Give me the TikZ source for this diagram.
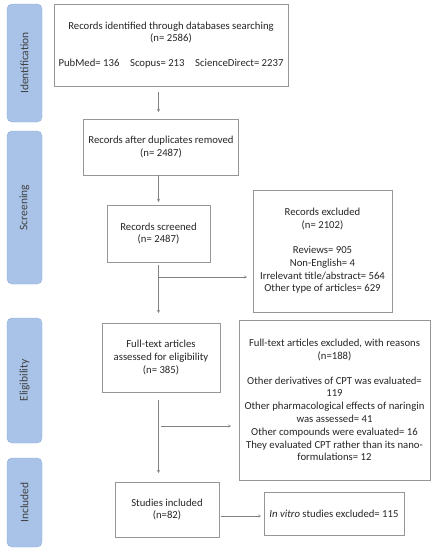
\documentclass[tikz,border=0pt]{standalone}
\usepackage{fontspec}
\setmainfont{Carlito}
\usepackage{tikz}
\usetikzlibrary{arrows.meta, positioning, calc}
\definecolor{barblue}{RGB}{169,195,232}
\definecolor{barline}{RGB}{140,172,218}
\definecolor{boxline}{RGB}{150,150,150}
\definecolor{arrowgray}{RGB}{130,130,130}
\tikzstyle{phase} = [rectangle, rounded corners = 5pt, minimum width = 35pt, fill = barblue, draw = barline, text = black!75, font = \fontsize{11.5}{13}\selectfont, rotate = 90]
\tikzstyle{record} = [rectangle, draw = boxline, fill = white, text = black!85, align = center, inner sep = 0pt, font = \fontsize{10.7}{12.8}\selectfont]
\tikzstyle{flow} = [draw = arrowgray, -{To[length=3pt, width=3pt]}]

\begin{document}
\begin{tikzpicture}[x = 1pt, y = -1pt]
\useasboundingbox (0,0) rectangle (434,550);
% phases
\node (ident) [phase, minimum height = 35pt, minimum width = 118pt] at (24.5,63) {Identification};
\node (screen) [phase, minimum height = 35pt, minimum width = 153pt] at (24.5,207.5) {Screening};
\node (elig) [phase, minimum height = 35pt, minimum width = 125pt] at (24.5,380.5) {Eligibility};
\node (incl) [phase, minimum height = 35pt, minimum width = 89pt] at (24.5,502.5) {Included};
% records
\node (found) [record, minimum width = 234pt, minimum height = 82pt] at (171,45) {Records identified through databases searching\\(n= 2586)\\[12pt]PubMed= 136\quad Scopus= 213\quad ScienceDirect= 2237};
\node (dedup) [record, minimum width = 155pt, minimum height = 56pt] at (161,147) {Records after duplicates removed\\(n= 2487)};
\node (screened) [record, minimum width = 103pt, minimum height = 57pt] at (158.5,233.5) {Records screened\\(n= 2487)};
\node (excl) [record, minimum width = 139pt, minimum height = 122pt] at (322.5,251) {Records excluded\\(n= 2102)\\[12pt]Reviews= 905\\Non-English= 4\\Irrelevant title/abstract= 564\\Other type of articles= 629};
\node (fulltext) [record, minimum width = 118pt, minimum height = 69pt] at (161,357.5) {Full-text articles\\assessed for eligibility\\(n= 385)};
\node (ftexcl) [record, minimum width = 191pt, minimum height = 160pt] at (334.5,400) {Full-text articles excluded, with reasons\\(n=188)\\[12pt]Other derivatives of CPT was evaluated=\\119\\Other pharmacological effects of naringin\\was assessed= 41\\Other compounds were evaluated= 16\\They evaluated CPT rather than its nano-\\formulations= 12};
\node (studies) [record, minimum width = 104pt, minimum height = 55pt] at (167,509.5) {Studies included\\(n=82)};
\node (invitro) [record, minimum width = 140pt, minimum height = 43pt] at (334,513.5) {\textit{In vitro} studies excluded= 115};
% connectors
\coordinate (split1) at (158,277);
\coordinate (split2) at (158,426);
\draw[flow, shorten <= 6pt, shorten >= 7pt] (found.south -| screened.north) -- (dedup.north -| screened.north);
\draw[flow, shorten >= 3pt] (dedup.south -| screened.north) -- (screened.north);
\draw[flow, shorten <= 3pt, shorten >= 10pt] (screened.south) -- (fulltext.north -| screened.south);
\draw[flow, shorten >= 6pt] (split1) -- (split1 -| excl.west);
\draw[flow, shorten <= 8pt, shorten >= 9pt] (fulltext.south -| screened.south) -- (studies.north -| screened.south);
\draw[flow, shorten <= 3pt, shorten >= 8pt] (split2) -- (split2 -| ftexcl.west);
\draw[flow, shorten <= 2pt, shorten >= 3pt] (studies.east |- invitro.west) ++(0,2.5) coordinate (s3) (s3) -- (s3 -| invitro.west);
\end{tikzpicture}
\end{document}
